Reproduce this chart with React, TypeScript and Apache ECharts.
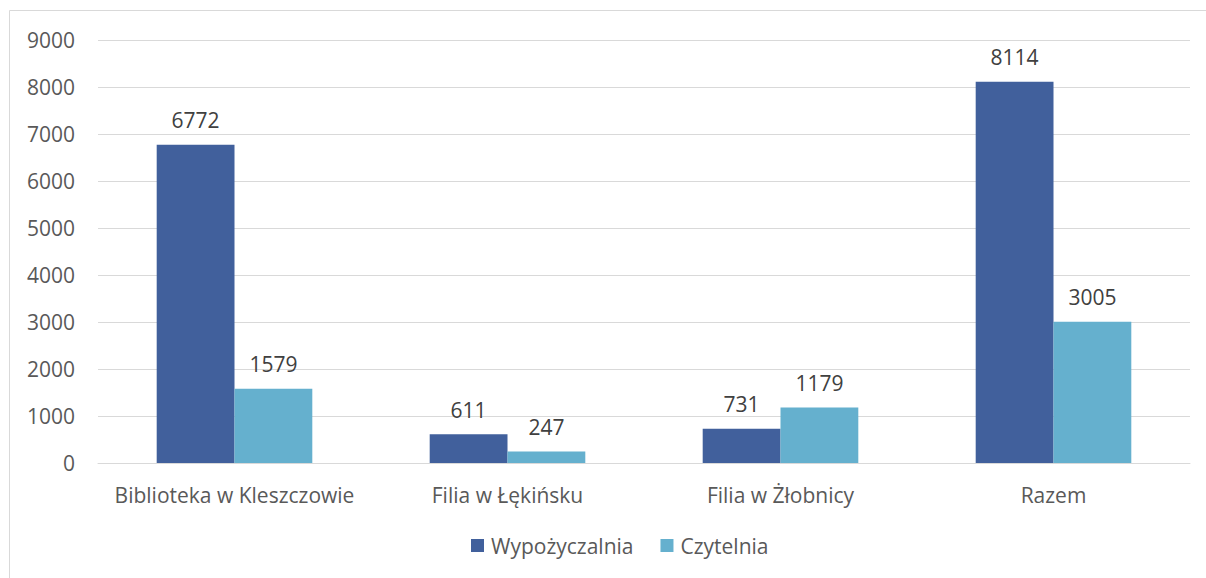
import React, { useEffect, useRef } from "react";
import * as echarts from "echarts";

const categories = ["Biblioteka w Kleszczowie", "Filia w Łękińsku", "Filia w Żłobnicy", "Razem"];
const wypozyczalnia = [6772, 611, 731, 8114];
const czytelnia = [1579, 247, 1179, 3005];
const seriesNames = ["Wypożyczalnia", "Czytelnia"];

const FONT = "'Open Sans', sans-serif";
const TEXT = "#595959";
const FS = 21;

export default function App() {
  const ref = useRef<HTMLDivElement>(null);
  useEffect(() => {
    document.body.style.margin = "0";
    const chart = echarts.init(ref.current!, null, { renderer: "svg" });
    const label = {
      show: true,
      position: "top" as const,
      distance: 14,
      color: "#404040",
      fontFamily: FONT,
      fontSize: FS,
    };
    chart.setOption({
      animation: false,
      backgroundColor: "#ffffff",
      textStyle: { fontFamily: FONT },
      graphic: [
        {
          type: "rect",
          shape: { x: 9.5, y: 10.5, width: 1220, height: 600 },
          style: { fill: "none", stroke: "#d9d9d9", lineWidth: 1 },
          silent: true,
        },
      ],
      grid: { left: 98, right: 16, top: 40, bottom: 115, containLabel: false },
      legend: {
        data: seriesNames,
        bottom: 17,
        left: 466,
        itemWidth: 13,
        itemHeight: 13,
        itemGap: 27,
        icon: "rect",
        textStyle: { color: TEXT, fontFamily: FONT, fontSize: FS, padding: [0, 0, 0, 2] },
      },
      xAxis: {
        type: "category",
        data: categories,
        axisLine: { lineStyle: { color: "#d9d9d9", width: 1 } },
        axisTick: { show: false },
        axisLabel: { color: TEXT, fontFamily: FONT, fontSize: FS, margin: 21, interval: 0 },
      },
      yAxis: {
        type: "value",
        min: 0,
        max: 9000,
        interval: 1000,
        axisLine: { show: false },
        axisTick: { show: false },
        splitLine: { lineStyle: { color: "#d9d9d9", width: 1 } },
        axisLabel: {
          color: TEXT,
          fontFamily: FONT,
          fontSize: FS,
          margin: 23,
          formatter: (v: number) => String(v),
        },
      },
      series: [
        {
          name: seriesNames[0],
          type: "bar",
          data: wypozyczalnia,
          barGap: "0%",
          barCategoryGap: "43%",
          itemStyle: { color: "#41609c" },
          label,
        },
        {
          name: seriesNames[1],
          type: "bar",
          data: czytelnia,
          barGap: "0%",
          barCategoryGap: "43%",
          itemStyle: { color: "#65b0ce" },
          label,
        },
      ],
    });
    return () => chart.dispose();
  }, []);
  return <div ref={ref} style={{ width: 1206, height: 578 }} />;
}
